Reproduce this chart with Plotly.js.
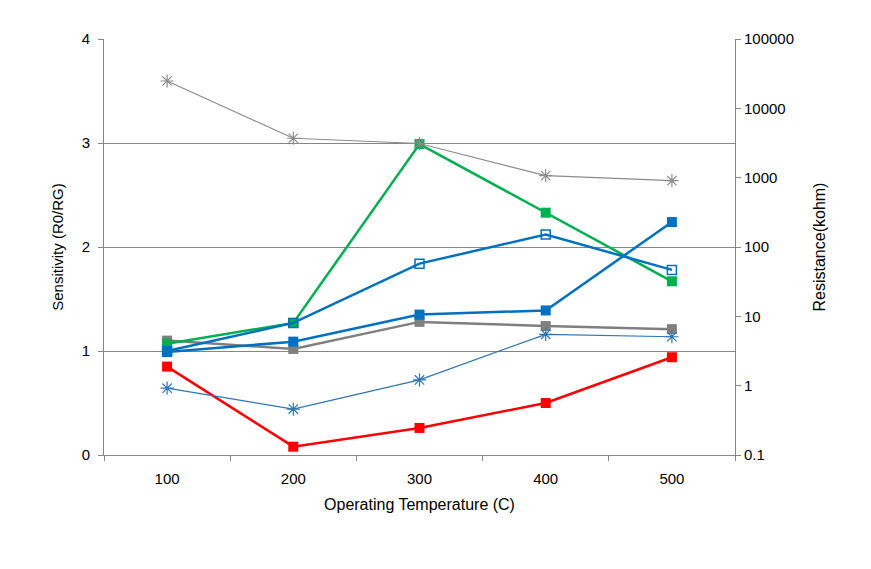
<!DOCTYPE html>
<html><head><meta charset="utf-8">
<script src="https://cdn.plot.ly/plotly-3.0.1.min.js"></script>
<style>body{margin:0;background:#fff}#chart{width:871px;height:569px}</style>
</head><body><div id="chart"></div>
<script>
const temps = ['100','200','300','400','500'];
const sensRed = [0.85, 0.08, 0.26, 0.50, 0.94];
const sensGreen = [1.07, 1.27, 2.99, 2.33, 1.67];
const sensBlueFilled = [0.99, 1.09, 1.35, 1.39, 2.24];
const sensBlueOpen = [1.00, 1.27, 1.84, 2.12, 1.78];
const sensGray = [1.10, 1.02, 1.28, 1.24, 1.21];
const resGray = [24800, 3700, 3110, 1070, 905];
const resBlue = [0.92, 0.46, 1.21, 5.5, 5.08];
const resTickVals = [0.1, 1, 10, 100, 1000, 10000, 100000];
const resTickText = ['0.1','1','10','100','1000','10000','100000'];

const font = 'Liberation Sans, Arial, sans-serif';
function thick(y, color, symbol, extra) {
  return Object.assign({
    x: temps, y: y, type: 'scatter', mode: 'lines+markers',
    line: {color: color, width: 2.5},
    marker: {color: color, symbol: symbol, size: 10},
    yaxis: 'y', showlegend: false
  }, extra || {});
}
function thin(y, color) {
  return {
    x: temps, y: y, type: 'scatter', mode: 'lines+markers',
    line: {color: color, width: 1.2},
    marker: {color: color, symbol: 'asterisk-open', size: 11, line: {color: color, width: 1.2}},
    yaxis: 'y2', showlegend: false
  };
}
const traces = [
  thin(resBlue, '#2E75B6'),
  thin(resGray, '#8C8C8C'),
  thick(sensGray, '#7F7F7F', 'square'),
  thick(sensGreen, '#00B050', 'square'),
  thick(sensBlueOpen, '#0070C0', 'square-open', {marker: {color: '#0070C0', symbol: 'square-open', size: 9, line: {color: '#0070C0', width: 1.5}}}),
  thick(sensBlueFilled, '#0070C0', 'square'),
  thick(sensRed, '#FF0000', 'square')
];
const axisCol = '#868686';
const layout = {
  width: 871, height: 569,
  margin: {l: 104, r: 136, t: 39, b: 114},
  paper_bgcolor: '#fff', plot_bgcolor: '#fff',
  font: {family: font, color: '#000', size: 15},
  xaxis: {
    type: 'category', tickson: 'boundaries', range: [-0.5, 4.5],
    showgrid: false, showline: true, linecolor: axisCol, linewidth: 1,
    ticks: 'outside', ticklen: 5, tickcolor: axisCol, ticklabelstandoff: 10,
    tickfont: {size: 15, family: font},
    title: {text: 'Operating Temperature (C)', font: {size: 16, family: font}, standoff: 12}
  },
  yaxis: {
    range: [0, 4], dtick: 1, tick0: 0,
    showgrid: true, gridcolor: axisCol, gridwidth: 1, zeroline: false,
    showline: true, linecolor: axisCol, ticks: 'outside', ticklen: 5, tickcolor: axisCol,
    ticklabelstandoff: 5,
    tickfont: {size: 15, family: font},
    title: {text: 'Sensitivity (R0/RG)', font: {size: 15, family: font}, standoff: 14}
  },
  yaxis2: {
    type: 'log', range: [-1, 5], overlaying: 'y', side: 'right',
    tickvals: resTickVals, ticktext: resTickText,
    showgrid: false, zeroline: false,
    showline: true, linecolor: axisCol, ticks: 'outside', ticklen: 5, tickcolor: axisCol,
    tickfont: {size: 15, family: font},
    title: {text: 'Resistance(kohm)', font: {size: 16, family: font}, standoff: 20}
  }
};
Plotly.newPlot('chart', traces, layout, {displayModeBar: false, staticPlot: true});
</script></body></html>
